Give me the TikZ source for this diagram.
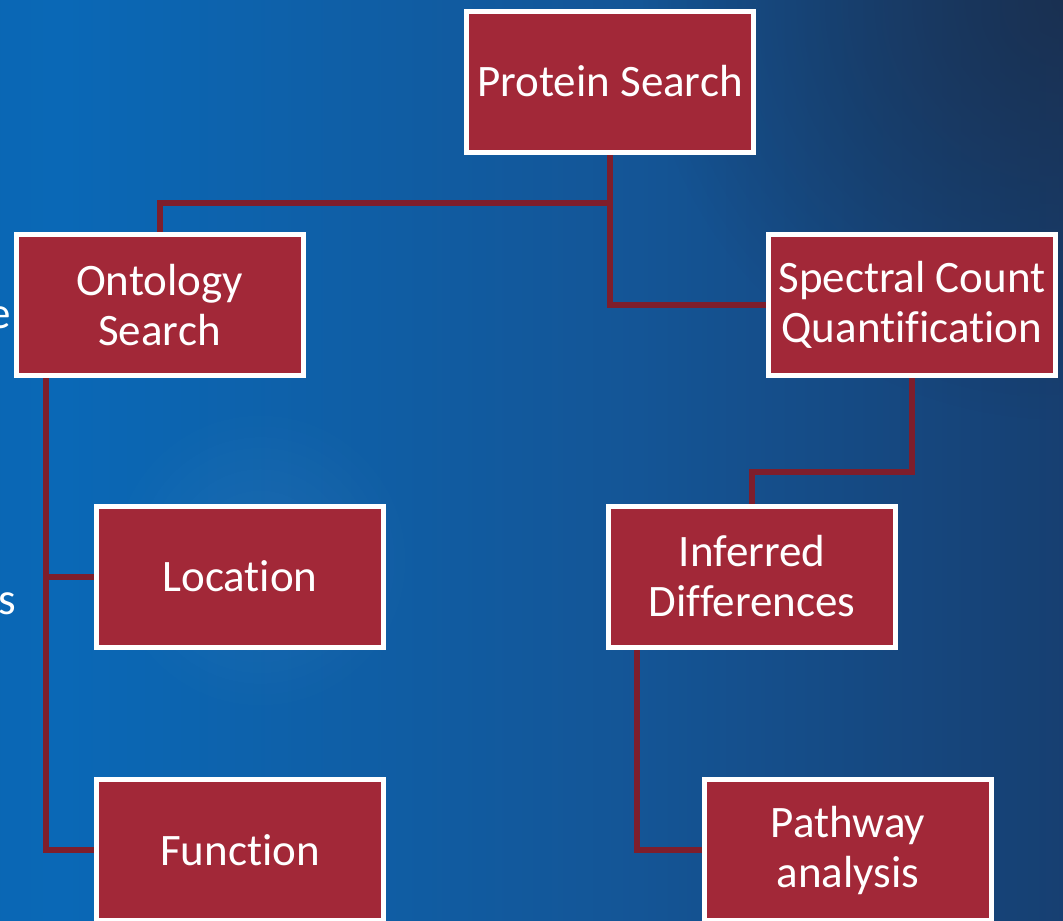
\documentclass[tikz,border=0pt]{standalone}
\usepackage{fontspec}
\setmainfont{Carlito}[Ligatures=NoCommon]
\usetikzlibrary{backgrounds,calc,fadings}
\definecolor{boxred}{HTML}{A22838}
\definecolor{linered}{HTML}{7E1E2C}
\definecolor{bgA}{HTML}{0E5FA8}
\definecolor{bgB}{HTML}{0A68B6}
\definecolor{bgC}{HTML}{145596}
\definecolor{bgD}{HTML}{173C6C}
\definecolor{bgE}{HTML}{1B2A44}
\pgfdeclarehorizontalshading{bgshade}{100bp}{color(0bp)=(bgA); color(28bp)=(bgB); color(55bp)=(bgC); color(78bp)=(bgD); color(100bp)=(bgE)}
\tikzfading[name=radfade, inner color=transparent!0, outer color=transparent!100]
\pgfdeclarelayer{bglayer}
\pgfsetlayers{bglayer,background,main}
\tikzset{
  boxnode/.style={draw=white, line width=5pt, fill=boxred, minimum width=287pt, minimum height=141pt,
    text=white, align=center, inner sep=0pt, font=\fontsize{45}{50}\selectfont},
  conn/.style={draw=linered, line width=6pt},
  edgetext/.style={text=white, inner sep=0pt, font=\fontsize{45}{50}\selectfont}
}
\begin{document}
\begin{tikzpicture}[x=1pt,y=-1pt]
\useasboundingbox (0,0) rectangle (1063,921);
\clip (0,0) rectangle (1063,921);
\begin{pgfonlayer}{bglayer}
\shade[shading=bgshade] (0,0) rectangle (1063,921);
\fill[bgE, opacity=0.7, path fading=radfade] (1063,0) circle (420);
\fill[white, opacity=0.06, path fading=radfade] (260,560) circle (160);
\end{pgfonlayer}
% partial texts at left edge
\node[edgetext, anchor=base east] (pe) at (11,328) {e};
\node[edgetext, anchor=base east] (ps2) at (16,614) {s};
% boxes
\node[boxnode] (ps) at (610,81.5) {Protein Search};
\node[boxnode] (os) at (159.5,305) {Ontology\\Search};
\node[boxnode] (sc) at (912,305) {Spectral Count\\Quantification};
\node[boxnode] (loc) at (240,576.5) {Location};
\node[boxnode] (inf) at (752,576.5) {Inferred\\Differences};
\node[boxnode] (fn) at (240,850) {Function};
\node[boxnode] (pw) at (848,850) {Pathway\\analysis};
\begin{pgfonlayer}{background}
\draw[conn] (ps.south) -- ++(0,48) -| (os.north);
\draw[conn] (ps.south) |- (sc.west);
\draw[conn] ([xshift=32pt]os.south west) |- (fn.west);
\draw[conn] ([xshift=32pt]os.south west) |- (loc.west);
\draw[conn] (sc.south) -- ++(0,94) -| (inf.north);
\draw[conn] ([xshift=31pt]inf.south west) |- (pw.west);
\end{pgfonlayer}
\end{tikzpicture}
\end{document}
